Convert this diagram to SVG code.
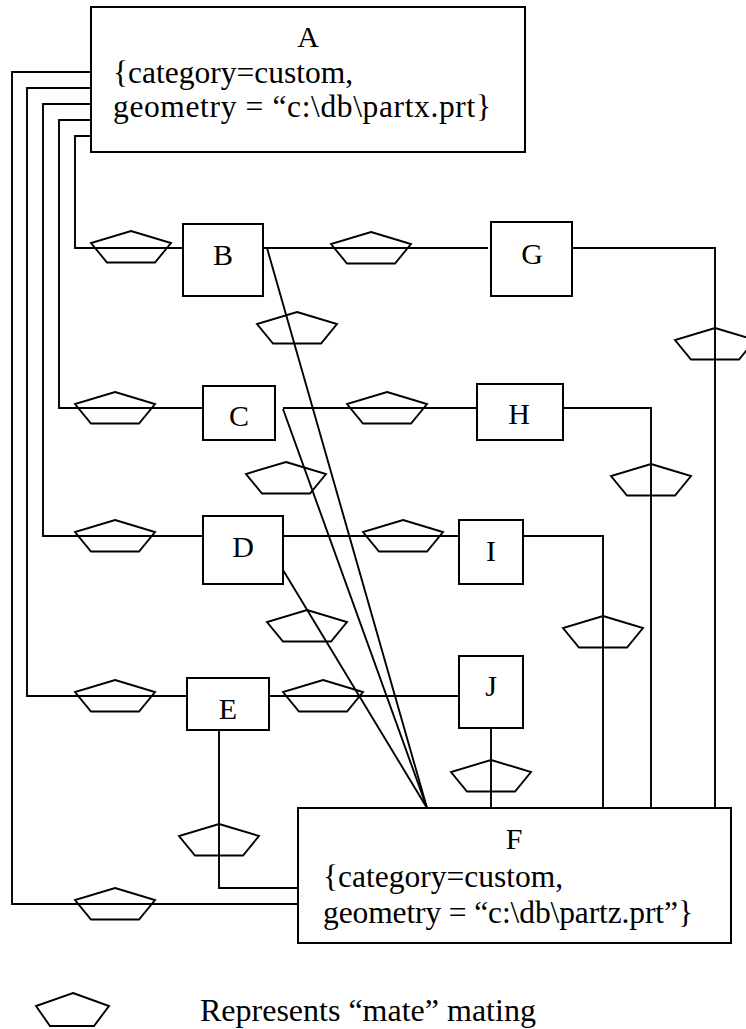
<svg xmlns="http://www.w3.org/2000/svg" xmlns:xlink="http://www.w3.org/1999/xlink" width="746" height="1029" viewBox="0 0 746 1029">
  <style>
    .box { fill: #fff; stroke: #000; stroke-width: 2; }
    .wire { fill: none; stroke: #000; stroke-width: 1.9; }
    .mate { fill: none; stroke: #000; stroke-width: 1.9; stroke-linejoin: miter; }
    text { font-family: "Liberation Serif", "Times New Roman", serif; fill: #000; }
    .lbl { font-size: 30px; text-anchor: middle; }
    .attr { font-size: 31.5px; }
    .legend { font-size: 32px; }
  </style>
  <defs>
    <!-- mate symbol, apex at origin -->
    <polygon id="mate" points="0,0 40,12 24,31.5 -24,31.5 -40,12"/>
  </defs>

  <!-- connectors -->
  <g id="connectors" class="wire">
    <polyline points="91,72 12,72 12,904 298,904"/>
    <polyline points="91,88 27,88 27,696 187,696"/>
    <polyline points="91,104 43,104 43,536 203,536"/>
    <polyline points="91,120 59,120 59,408 203,408"/>
    <polyline points="91,136 75,136 75,248 183,248"/>
    <line x1="263" y1="248" x2="488" y2="248"/>
    <polyline points="572,248 715,248 715,808"/>
    <line x1="267" y1="248" x2="427" y2="808"/>
    <line x1="283" y1="408" x2="477" y2="408"/>
    <line x1="283" y1="409" x2="427" y2="808"/>
    <polyline points="555,408 651,408 651,808"/>
    <line x1="283" y1="536" x2="459" y2="536"/>
    <line x1="283" y1="570" x2="427" y2="808"/>
    <polyline points="523,536 603,536 603,808"/>
    <line x1="267" y1="696" x2="459" y2="696"/>
    <line x1="491" y1="728" x2="491" y2="808"/>
    <polyline points="219,730 219,888 298,888"/>
  </g>

  <!-- mate markers -->
  <g id="mates" class="mate">
    <use xlink:href="#mate" x="131" y="231"/>
    <use xlink:href="#mate" x="371" y="232"/>
    <use xlink:href="#mate" x="297" y="312"/>
    <use xlink:href="#mate" x="715" y="328"/>
    <use xlink:href="#mate" x="115" y="392"/>
    <use xlink:href="#mate" x="387" y="392"/>
    <use xlink:href="#mate" x="286" y="462"/>
    <use xlink:href="#mate" x="651" y="464"/>
    <use xlink:href="#mate" x="115" y="520"/>
    <use xlink:href="#mate" x="403" y="520"/>
    <use xlink:href="#mate" x="307" y="610"/>
    <use xlink:href="#mate" x="603" y="616"/>
    <use xlink:href="#mate" x="115" y="680"/>
    <use xlink:href="#mate" x="323" y="680"/>
    <use xlink:href="#mate" x="491" y="760"/>
    <use xlink:href="#mate" x="219" y="824"/>
    <use xlink:href="#mate" x="115" y="888"/>
  </g>

  <g id="node-A">
    <rect class="box" x="91" y="7" width="434" height="145"/>
    <text class="lbl" x="308" y="47">A</text>
    <text class="attr" x="113" y="83">{category=custom,</text>
    <text class="attr" x="113" y="117" textLength="378" lengthAdjust="spacing">geometry = “c:\db\partx.prt}</text>
  </g>
  <g id="node-B">
    <rect class="box" x="183" y="224" width="80" height="72"/>
    <text class="lbl" x="223" y="265">B</text>
  </g>
  <g id="node-G">
    <rect class="box" x="491" y="222" width="81" height="74"/>
    <text class="lbl" x="532" y="264">G</text>
  </g>
  <g id="node-C">
    <rect class="box" x="203" y="386" width="72" height="54"/>
    <text class="lbl" x="239" y="426">C</text>
  </g>
  <g id="node-H">
    <rect class="box" x="477" y="384" width="86" height="56"/>
    <text class="lbl" x="519" y="424">H</text>
  </g>
  <g id="node-D">
    <rect class="box" x="203" y="516" width="80" height="68"/>
    <text class="lbl" x="243" y="557">D</text>
  </g>
  <g id="node-I">
    <rect class="box" x="459" y="520" width="64" height="64"/>
    <text class="lbl" x="491" y="561">I</text>
  </g>
  <g id="node-E">
    <rect class="box" x="187" y="678" width="82" height="52"/>
    <text class="lbl" x="228" y="719">E</text>
  </g>
  <g id="node-J">
    <rect class="box" x="459" y="656" width="64" height="72"/>
    <text class="lbl" x="491" y="696">J</text>
  </g>
  <g id="node-F">
    <rect class="box" x="298" y="808" width="433" height="135"/>
    <text class="lbl" x="514" y="849">F</text>
    <text class="attr" x="323" y="887">{category=custom,</text>
    <text class="attr" x="323" y="923" textLength="370" lengthAdjust="spacing">geometry = “c:\db\partz.prt”}</text>
  </g>

  <!-- legend -->
  <g id="legend">
    <polygon class="mate" points="73,993 109,1006 94,1026 50,1026 36,1006"/>
    <text class="legend" x="200" y="1021">Represents “mate” mating</text>
  </g>
</svg>
